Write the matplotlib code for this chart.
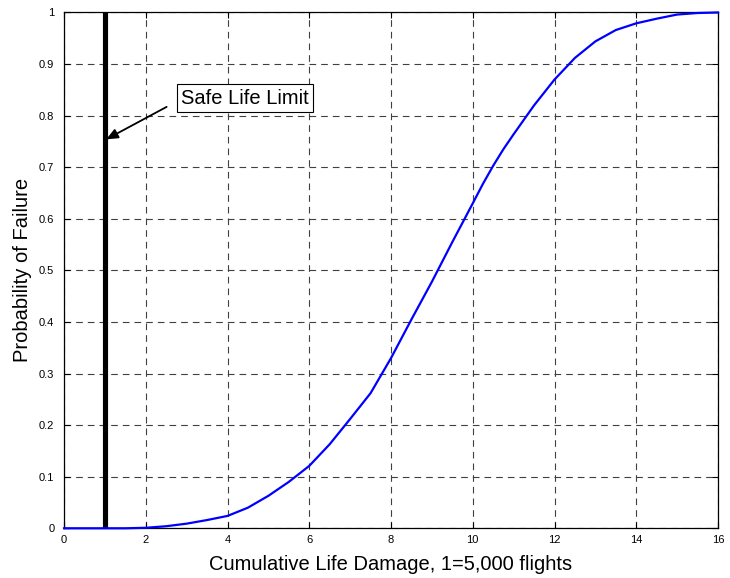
import matplotlib
matplotlib.use("Agg")
import matplotlib.pyplot as plt

plt.rcParams['font.family'] = ['Liberation Sans', 'DejaVu Sans']

# values
damage = [0, 0.5, 1, 1.5, 2, 2.5, 3, 3.5, 4, 4.5, 5, 5.5, 6, 6.5, 7, 7.5, 8,
          8.5, 9, 9.5, 10, 10.25, 10.5, 10.75, 11, 11.5, 12, 12.5, 13, 13.5,
          14, 14.5, 15, 15.5, 16]
prob_fail = [0, 0, 0, 0, 0.001, 0.004, 0.009, 0.016, 0.024, 0.040, 0.063, 0.090,
             0.121, 0.163, 0.212, 0.262, 0.330, 0.405, 0.478, 0.555, 0.630, 0.668,
             0.703, 0.735, 0.764, 0.820, 0.870, 0.912, 0.944, 0.966, 0.979, 0.988,
             0.996, 0.999, 1.0]
safe_life = 1
x_ticks = [0, 2, 4, 6, 8, 10, 12, 14, 16]
y_ticks = [0, 0.1, 0.2, 0.3, 0.4, 0.5, 0.6, 0.7, 0.8, 0.9, 1]
y_tick_labels = ['0', '0.1', '0.2', '0.3', '0.4', '0.5', '0.6', '0.7', '0.8', '0.9', '1']

fig = plt.figure(figsize=(7.3, 5.78), dpi=100)
ax = fig.add_axes([0.0877, 0.086, 0.8959, 0.8924])

ax.plot(damage, prob_fail, color=(0, 0, 1), lw=1.6, zorder=4, clip_on=False)
ax.plot([safe_life, safe_life], [0, 1], color='black', lw=3.7,
        solid_capstyle='butt', zorder=3)

ax.set_xlim(0, 16)
ax.set_ylim(0, 1)
ax.set_xticks(x_ticks)
ax.set_xticklabels([str(t) for t in x_ticks])
ax.set_yticks(y_ticks)
ax.set_yticklabels(y_tick_labels)
ax.grid(True, color='0.25', lw=0.8, linestyle=(0, (6, 4.5)))
ax.tick_params(direction='in', length=4, width=0.8, top=True, right=True,
               labelsize=8, pad=5)
ax.tick_params(axis='y', pad=7)
for s in ax.spines.values():
    s.set_linewidth(0.9)

ax.set_xlabel('Cumulative Life Damage, 1=5,000 flights', fontsize=14.5, labelpad=7)
ax.set_ylabel('Probability of Failure', fontsize=14.5, labelpad=5)

# label box and arrow
ax.text(4.43, 0.834, 'Safe Life Limit', fontsize=14.5, ha='center', va='center',
        bbox=dict(boxstyle='square,pad=0.22', fc='white', ec='black', lw=0.8),
        zorder=5)
ax.annotate('', xy=(1.03, 0.754), xytext=(2.51, 0.817),
            arrowprops=dict(arrowstyle='-|>,head_length=0.7,head_width=0.3',
                            color='black', lw=1.3, shrinkA=0, shrinkB=0),
            zorder=5)

fig.savefig('out.png', dpi=100)
